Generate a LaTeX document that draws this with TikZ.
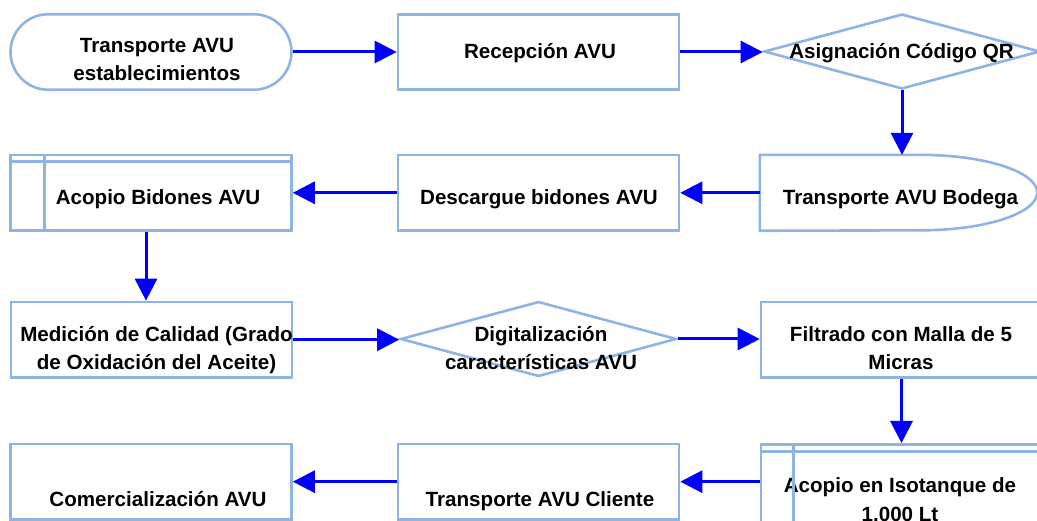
\documentclass[tikz,border=0pt]{standalone}
\usepackage{fontspec}
\setmainfont{Liberation Sans}
\usetikzlibrary{shapes.geometric,arrows.meta}
\definecolor{edgeblue}{RGB}{141,180,226}
\definecolor{flowblue}{RGB}{0,0,255}
\tikzset{
  shapebox/.style={draw=edgeblue, line width=2.6pt, fill=white, inner sep=0pt,
                   minimum width=281pt, minimum height=75.5pt},
  procbox/.style={shapebox, rectangle},
  termbox/.style={shapebox, rectangle, rounded corners=37.7pt},
  decbox/.style={shapebox, diamond, minimum width=276pt, minimum height=75pt},
  holder/.style={inner sep=0pt, minimum width=277pt, minimum height=75.5pt},
  outline/.style={draw=edgeblue, line width=2.6pt},
  txt/.style={font=\bfseries\fontsize{20.6pt}{28.6pt}\selectfont, align=center,
              inner sep=0pt, anchor=base, text=black},
  flow/.style={draw=flowblue, line width=3pt, -{Triangle[length=22pt,width=22pt]}},
}
\begin{document}
\begin{tikzpicture}[x=1pt, y=-1pt]
  \useasboundingbox (0,0) rectangle (1037,521);
  \clip (0,0) rectangle (1037,521);

  % row 1
  \node[termbox] (t1) at (151,52) {};
  \node[procbox] (recep) at (538.5,52) {};
  \node[decbox] (asig) at (902,51.5) {};
  % row 2
  \node[holder] (bodega) at (898.5,192.8) {};
  \draw[outline, fill=white] (bodega.north west) -- ([xshift=-117pt]bodega.north east)
     arc[start angle=90, end angle=-90, x radius=117pt, y radius=37.75pt]
     -- (bodega.south west) -- cycle;
  \node[procbox] (desc) at (538.5,192.8) {};
  \node[procbox] (acopio) at (151,192.8) {};
  \draw[outline] ([xshift=35.5pt]acopio.north west) -- ([xshift=35.5pt]acopio.south west);
  \draw[outline] ([yshift=-8pt]acopio.north west) -- ([yshift=-8pt]acopio.north east);
  % row 3
  \node[procbox] (medic) at (151.5,339.7) {};
  \node[decbox] (digit) at (538.5,339) {};
  \node[procbox] (filtr) at (901.5,339.7) {};
  % row 4
  \node[procbox, minimum height=82pt] (iso) at (901.5,485.3) {};
  \node[procbox] (cliente) at (538.5,481.7) {};
  \node[procbox] (comer) at (151,481.7) {};

  % texts (a node's base is the baseline of its last line)
  \node[txt] (t1-txt) at (157,80.7) {Transporte AVU\\establecimientos};
  \node[txt] (recep-txt) at (540,58.5) {Recepción AVU};
  \node[txt] (asig-txt) at (901.5,58.5) {Asignación Código QR};
  \node[txt] (bodega-txt) at (900.5,205) {Transporte AVU Bodega};
  \node[txt] (desc-txt) at (539,205) {Descargue bidones AVU};
  \node[txt] (acopio-txt) at (158,205) {Acopio Bidones AVU};
  \node[txt] (medic-txt) at (156.5,370) {Medición de Calidad (Grado\\de Oxidación del Aceite)};
  \node[txt] (digit-txt) at (541,370) {Digitalización\\características AVU};
  \node[txt] (filtr-txt) at (901,370) {Filtrado con Malla de 5\\Micras};
  \node[txt] (iso-txt) at (900,521.5) {Acopio en Isotanque de\\1.000 Lt};
  \node[txt] (cliente-txt) at (540,506.7) {Transporte AVU Cliente};
  \node[txt] (comer-txt) at (158,506.7) {Comercialización AVU};

  % inner frame lines of the storage tank, over its text
  \draw[outline] ([xshift=34pt]iso.north west) -- ([xshift=34pt]iso.south west);
  \draw[outline] ([yshift=-8.5pt]iso.north west) -- ([yshift=-8.5pt]iso.north east);

  % connectors
  \draw[flow] (t1.east) -- (t1.east -| recep.west);
  \draw[flow] (recep.east) -- (recep.east -| asig.west);
  \draw[flow] (asig.south) -- (asig.south |- bodega.north);
  \draw[flow] (bodega.west) -- (bodega.west -| desc.east);
  \draw[flow] (desc.west) -- (desc.west -| acopio.east);
  \draw[flow] ([xshift=-5pt]acopio.south) -- ([xshift=-5pt]acopio.south |- medic.north);
  \draw[flow] (medic.east) -- (medic.east -| digit.west);
  \draw[flow] (digit.east) -- (digit.east -| filtr.west);
  \draw[flow] (filtr.south) -- (filtr.south |- iso.north);
  \draw[flow] (iso.west |- cliente.east) -- (cliente.east);
  \draw[flow] (cliente.west) -- (cliente.west -| comer.east);
\end{tikzpicture}
\end{document}
